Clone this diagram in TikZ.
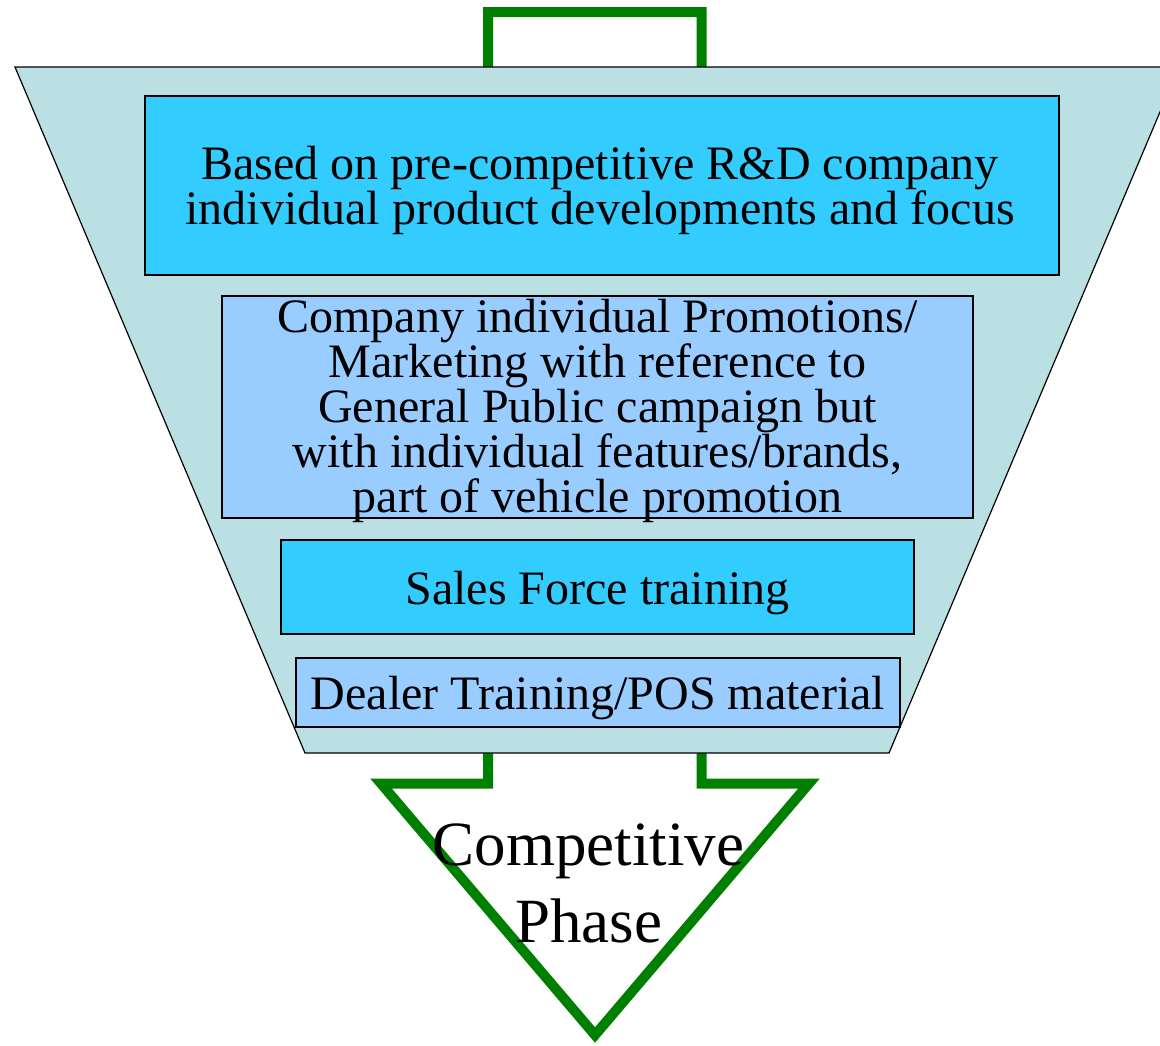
\documentclass[tikz,border=0pt]{standalone}
\usepackage{fontspec}
\setmainfont{Liberation Serif}
\definecolor{funnelfill}{HTML}{BBE0E3}
\definecolor{boxcyan}{HTML}{33CCFF}
\definecolor{boxblue}{HTML}{99CCFF}
\definecolor{arrowgreen}{HTML}{008000}
\tikzset{
  boxbase/.style={draw=black, line width=1.5pt, inner sep=0pt},
  cyanbox/.style={boxbase, fill=boxcyan},
  bluebox/.style={boxbase, fill=boxblue},
  boxtext/.style={inner sep=0pt, align=center, font=\fontsize{48}{45}\selectfont},
}
\begin{document}
\begin{tikzpicture}[x=1pt,y=-1pt]
\useasboundingbox (0,0) rectangle (1160,1045);
% green arrow behind the funnel
\draw[arrowgreen, line width=10pt, miter limit=20]
  (488,12) -- (701.5,12) -- (701.5,783.5) -- (809,783.5) -- (595,1035)
  -- (381,783.5) -- (488,783.5) -- cycle;
% funnel
\begin{scope}
\clip (0,0) rectangle (1160,1045);
\draw[fill=funnelfill, line width=1.2pt] (15,67) -- (1179,67) -- (889,753) -- (305,753) -- cycle;
\end{scope}
% boxes
\node[cyanbox, minimum width=914pt, minimum height=179pt] (b1) at (602,185.5) {};
\node[boxtext] (t1) at ([xshift=-2pt,yshift=-5pt]b1.center)
  {Based on pre-competitive R\&D company\\individual product developments and focus};
\node[bluebox, minimum width=751pt, minimum height=222pt] (b2) at (597.5,407) {};
\node[boxtext] (t2) at ([yshift=-4pt]b2.center)
  {Company individual Promotions/\\Marketing with reference to\\General Public campaign but\\with individual features/brands,\\part of vehicle promotion};
\node[cyanbox, minimum width=633pt, minimum height=94pt] (b3) at (597.5,587) {};
\node[boxtext, text depth=0.217em] (t3) at ([yshift=-2pt]b3.center) {Sales Force training};
\node[bluebox, minimum width=604pt, minimum height=69pt] (b4) at (598,692.5) {};
\node[boxtext, text depth=0pt] (t4) at (b4.center) {Dealer Training/POS material};
% label in arrow head
\node[align=center, inner sep=0pt, font=\fontsize{63}{77}\selectfont] (comp) at (588.5,883)
  {Competitive\\Phase};
\end{tikzpicture}
\end{document}
